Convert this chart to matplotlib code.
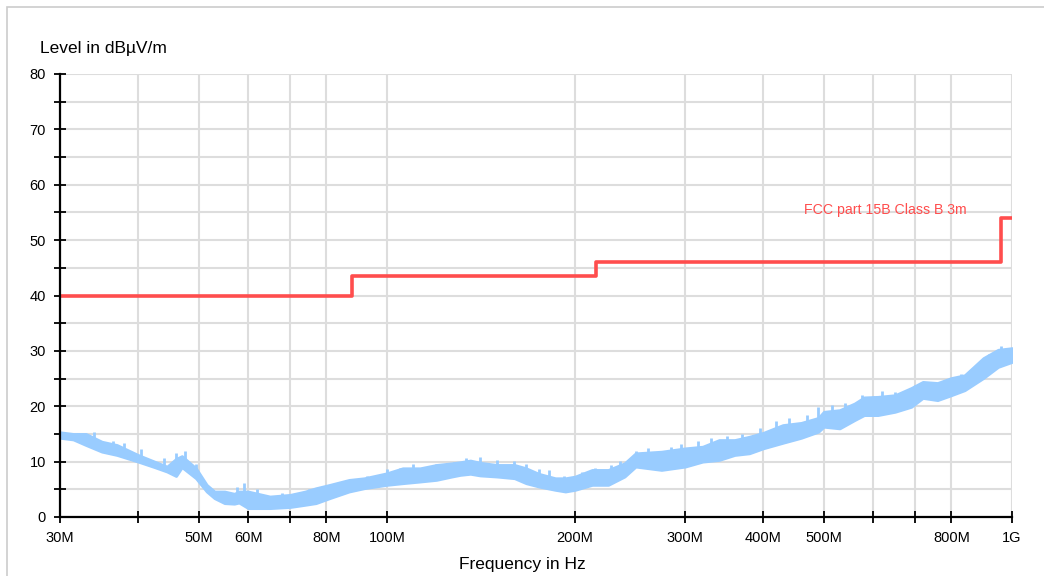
import numpy as np
import matplotlib.pyplot as plt
from matplotlib.patches import Rectangle

plt.rcParams['font.family'] = ['Liberation Sans', 'DejaVu Sans']

freq = [30, 31.5, 33, 35, 37, 40, 42.5, 44.5, 46, 47, 49.5, 51.5, 53, 55, 57,
        58, 60, 65, 70, 74, 77, 81, 87, 92, 100, 106, 113, 120, 127, 131,
        136, 141, 150, 160, 167, 175, 186, 193, 200, 213, 226, 240, 250,
        275, 300, 320, 340, 360, 380, 400, 430, 460, 490, 500, 530, 560,
        580, 610, 650, 690, 720, 760, 800, 840, 900, 950, 1000]
upper = [15.3, 15.0, 15.0, 13.6, 13.0, 11.2, 10.0, 9.1, 10.5, 11.0, 8.8,
         5.8, 4.6, 4.6, 4.2, 4.6, 4.6, 3.7, 4.0, 4.6, 5.2, 5.8, 6.7, 7.0,
         7.9, 8.8, 8.8, 9.4, 9.7, 9.9, 10.2, 9.8, 9.4, 9.4, 8.8, 7.8, 7.0,
         7.0, 7.3, 8.5, 8.5, 9.7, 11.5, 11.8, 12.4, 12.7, 13.9, 13.9, 14.5,
         15.2, 16.6, 17.0, 17.9, 19.0, 19.3, 20.5, 21.6, 21.7, 22.0, 23.3,
         24.4, 24.2, 25.1, 25.6, 28.7, 30.2, 30.5]
lower = [14.3, 14.0, 13.0, 11.8, 11.2, 10.0, 9.0, 8.2, 7.4, 9.0, 7.0, 4.6,
         3.4, 2.5, 2.4, 2.6, 1.6, 1.6, 1.8, 2.2, 2.5, 3.4, 4.6, 5.2, 5.8,
         6.1, 6.4, 6.7, 7.3, 7.6, 7.8, 7.5, 7.3, 7.0, 6.1, 5.5, 4.9, 4.6,
         4.9, 5.8, 5.8, 7.3, 9.1, 8.5, 9.1, 10.0, 10.3, 11.2, 11.5, 12.4,
         13.4, 14.3, 15.4, 16.3, 16.0, 17.5, 18.4, 18.4, 19.0, 19.9, 21.5,
         21.1, 22.0, 22.9, 25.1, 27.1, 28.0]

# isolated peaks sticking out of the band
spike_f = [30.5, 32, 34, 36.5, 38, 40.5, 44, 46, 47.5, 49.5, 57.5, 59, 62,
           68, 75, 79, 84, 88, 93, 100, 105, 110, 120, 128, 134, 141, 150,
           160, 167, 175, 182, 192, 205, 215, 228, 236, 250, 262, 285, 295,
           315, 330, 350, 370, 395, 420, 440, 470, 490, 515, 540, 575, 600,
           620, 650, 700, 740, 790, 830, 870, 920, 960, 990]
spike_v = [15.3, 15.2, 15.4, 13.8, 13.3, 12.2, 10.6, 11.6, 12.0, 9.6, 5.5,
           6.2, 5.1, 4.4, 5.0, 5.4, 6.4, 6.8, 7.4, 8.7, 8.8, 9.5, 9.6, 10.0,
           10.6, 10.9, 10.3, 10.2, 9.6, 8.6, 8.5, 7.4, 8.2, 8.8, 9.4, 10.1,
           12.0, 12.4, 12.6, 13.2, 13.7, 14.3, 14.6, 15.0, 16.0, 17.3, 17.8,
           18.5, 19.9, 20.3, 20.6, 22.0, 21.8, 22.7, 22.6, 23.8, 24.4, 24.6,
           25.8, 26.0, 29.5, 30.8, 30.5]

# FCC limit
limit_f = [30, 88, 88, 216, 216, 960, 960, 1000]
limit_v = [40, 40, 43.5, 43.5, 46, 46, 54, 54]

xticks = [30, 40, 50, 60, 70, 80, 100, 200, 300, 400, 500, 600, 700, 800, 1000]
xlabels = ['30M', '', '50M', '60M', '', '80M', '100M', '200M', '300M',
           '400M', '500M', '', '', '800M', '1G']

fig = plt.figure(figsize=(10.44, 5.76), dpi=100)
ax = fig.add_axes([60 / 1044, 1 - 517 / 576, 952 / 1044, 443 / 576])

fig.patches.append(Rectangle((7 / 1044, -0.1), 1.2, 1 - 7 / 576 + 0.1,
                             transform=fig.transFigure, fill=False,
                             edgecolor='#cccccc', lw=1.2))

blue = '#99ccff'
ax.fill_between(freq, lower, upper, color=blue, lw=2, edgecolor=blue, zorder=3)
mid = (np.interp(np.log(spike_f), np.log(freq), lower) +
       np.interp(np.log(spike_f), np.log(freq), upper)) / 2
ax.vlines(spike_f, mid, spike_v, color=blue, lw=2, zorder=3)

ax.plot(limit_f, limit_v, color='#ff4d4d', lw=2.6, zorder=4)
ax.text(465, 55.4, 'FCC part 15B Class B 3m', color='#ff4d4d', fontsize=10.2,
        va='center', ha='left')

ax.set_xscale('log')
ax.set_xlim(30, 1000)
ax.set_ylim(0, 80)
ax.set_xticks(xticks)
ax.set_xticklabels(xlabels)
ax.minorticks_off()
ax.set_yticks(range(0, 81, 5))
ax.set_yticklabels([str(v) if v % 10 == 0 else '' for v in range(0, 81, 5)])
ax.tick_params(direction='inout', length=8, width=1.3, labelsize=10.5,
               color='black', pad=6)

ax.grid(True, color='#dddddd', lw=1.5, zorder=0)
ax.set_axisbelow(True)
for s in ['top', 'right']:
    ax.spines[s].set_visible(False)
for s in ['left', 'bottom']:
    ax.spines[s].set_linewidth(1.6)
    ax.spines[s].set_zorder(5)

fig.text(40 / 1044, 1 - 48 / 576, 'Level in dBµV/m', fontsize=12.5,
         va='center', ha='left')
fig.text(522 / 1044, 1 - 565 / 576, 'Frequency in Hz', fontsize=12.5,
         va='center', ha='center')

fig.savefig('out.png', dpi=100)
